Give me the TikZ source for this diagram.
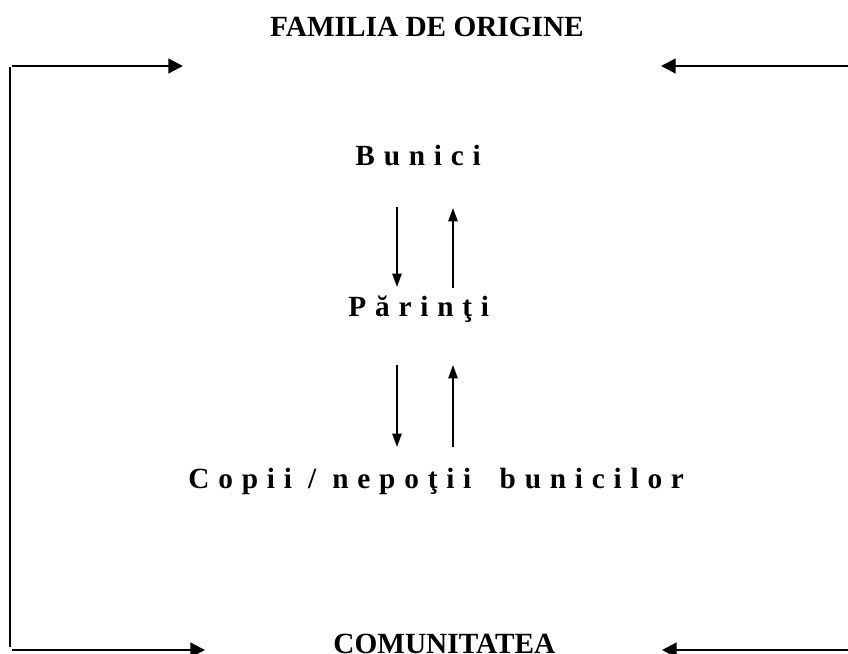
\documentclass[tikz,border=0pt]{standalone}
\usepackage{fontspec}
\setmainfont{Liberation Serif}
\usepackage{tikz}
\usetikzlibrary{arrows.meta}

\begin{document}
\begin{tikzpicture}[x=0.4096pt,y=-0.4096pt,
   title/.style={font=\fontsize{12}{14}\selectfont\bfseries,inner sep=0pt,anchor=base},
   gen/.style={font=\fontsize{12}{14}\selectfont\bfseries\addfontfeature{LetterSpace=30},inner sep=0pt,anchor=base west},
   frame/.style={line width=0.95pt,-{Triangle[length=6pt,width=6pt]}},
   link/.style={line width=0.8pt,-{Triangle[length=5.5pt,width=3.8pt]}}]
   \useasboundingbox (0,0) rectangle (848,654);
   % titles
   \node[title] (familia) at (427,37) {FAMILIA DE ORIGINE};
   \node[title,anchor=base west] (comunitatea) at (333,653) {COMUNITATEA};
   % generations
   \node[gen] (bunici) at (355,166) {Bunici};
   \node[gen] (parinti) at (348,317) {Părinţi};
   \node[gen] (copii) at (188,488) {Copii / nepoţii\hspace{5pt} bunicilor};
   % frame
   \coordinate (tl) at (10,67);
   \coordinate (bl) at (10,647);
   \coordinate (tlin) at (12,66);
   \coordinate (tlout) at (183,66);
   \coordinate (trin) at (848,66);
   \coordinate (trout) at (661,66);
   \coordinate (blin) at (12,650);
   \coordinate (blout) at (205,650);
   \coordinate (brin) at (848,650);
   \coordinate (brout) at (662,650);
   \draw[line width=0.95pt] (tl) -- (bl);
   \draw[frame] (tlin) -- (tlout);
   \draw[frame] (trin) -- (trout);
   \draw[frame] (blin) -- (blout);
   \draw[frame] (brin) -- (brout);
   % links between generations
   \coordinate (a1) at (397,207);
   \coordinate (a2) at (397,287);
   \coordinate (b1) at (453,288);
   \coordinate (b2) at (453,208);
   \coordinate (c1) at (397,365);
   \coordinate (c2) at (397,447);
   \coordinate (d1) at (453,447);
   \coordinate (d2) at (453,365);
   \draw[link] (a1) -- (a2);
   \draw[link] (b1) -- (b2);
   \draw[link] (c1) -- (c2);
   \draw[link] (d1) -- (d2);
\end{tikzpicture}
\end{document}
